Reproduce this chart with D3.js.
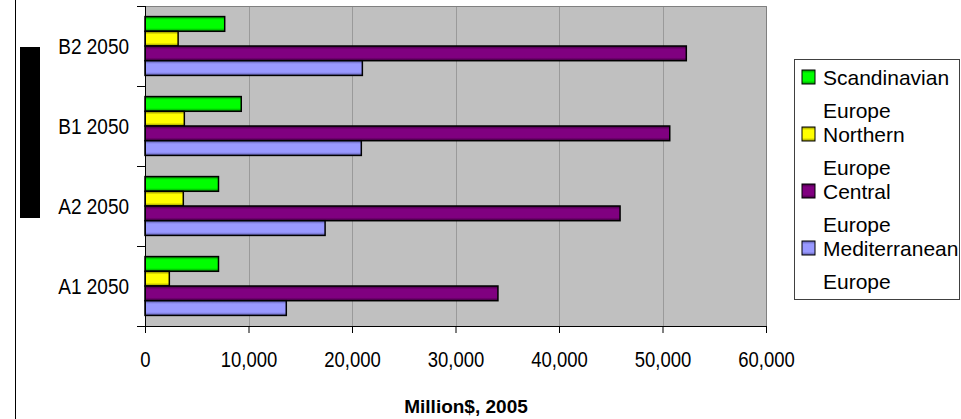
<!DOCTYPE html>
<html>
<head>
<meta charset="utf-8">
<script src="https://cdn.jsdelivr.net/npm/d3@7"></script>
<style>
  body { margin: 0; background: #fff; }
  svg { display: block; font-family: "Liberation Sans", Arial, sans-serif; }
</style>
</head>
<body>
<svg width="961" height="419"></svg>
<script>
// chart data
const scenarios = ['B2 2050', 'B1 2050', 'A2 2050', 'A1 2050'];
const regions = ['Scandinavian Europe', 'Northern Europe', 'Central Europe', 'Mediterranean Europe'];
const scandinavian = [7700, 9300, 7100, 7100];
const northern = [3200, 3800, 3700, 2350];
const central = [52300, 50700, 45900, 34100];
const mediterranean = [21000, 20900, 17400, 13650];
const xTicks = [0, 10000, 20000, 30000, 40000, 50000, 60000];

const seriesValues = [scandinavian, northern, central, mediterranean];
const colors = ['#00ff00', '#ffff00', '#800080', '#9999ff'];
const darkColors = ['#008c00', '#8c8c00', '#3c003c', '#5a5aa8'];

const svg = d3.select('svg');
const plotLeft = 145, plotRight = 766, plotTop = 6, plotBottom = 326;

// gradients for the bar shading
const defs = svg.append('defs');
colors.forEach(function (c, i) {
    const grad = defs.append('linearGradient')
        .attr('id', 'g' + i)
        .attr('x1', 0).attr('y1', 0).attr('x2', 0).attr('y2', 1);
    grad.append('stop').attr('offset', '0%').attr('stop-color', darkColors[i]);
    grad.append('stop').attr('offset', '22%').attr('stop-color', c);
    grad.append('stop').attr('offset', '78%').attr('stop-color', c);
    grad.append('stop').attr('offset', '100%').attr('stop-color', darkColors[i]);
});

// chart frame line at the left
svg.append('line')
    .attr('x1', 15.5).attr('x2', 15.5).attr('y1', 0).attr('y2', 419)
    .attr('stroke', '#000');

// obscured y axis title block
svg.append('rect')
    .attr('x', 20).attr('y', 47).attr('width', 20).attr('height', 171)
    .attr('fill', '#000');

const x = d3.scaleLinear().domain([0, 60000]).range([plotLeft, plotRight]);
const y = d3.scaleBand().domain(scenarios).range([plotTop, plotBottom]).padding(0);
const ySub = d3.scaleBand().domain(d3.range(regions.length))
    .range([0, y.bandwidth()]).paddingInner(0).paddingOuter(0.72);

// plot background
svg.append('rect')
    .attr('x', plotLeft).attr('y', plotTop)
    .attr('width', plotRight - plotLeft).attr('height', plotBottom - plotTop)
    .attr('fill', '#c0c0c0');

// gridlines
svg.append('g').selectAll('line')
    .data(xTicks.slice(1))
    .enter().append('line')
    .attr('x1', function (d) { return Math.round(x(d)) + 0.5; })
    .attr('x2', function (d) { return Math.round(x(d)) + 0.5; })
    .attr('y1', plotTop).attr('y2', plotBottom)
    .attr('stroke', '#9a9a9a');

// top and right border
svg.append('path')
    .attr('d', 'M' + plotLeft + ',' + (plotTop + 0.5) + 'H' + (plotRight + 0.5) + 'V' + plotBottom)
    .attr('fill', 'none')
    .attr('stroke', '#808080');

// bars
const groups = svg.append('g').selectAll('g')
    .data(scenarios)
    .enter().append('g')
    .attr('transform', function (d) { return 'translate(0,' + y(d) + ')'; });

groups.selectAll('rect')
    .data(function (d, i) {
        return seriesValues.map(function (s, k) { return { k: k, v: s[i] }; });
    })
    .enter().append('rect')
    .attr('x', x(0))
    .attr('y', function (d) { return ySub(d.k); })
    .attr('width', function (d) { return x(d.v) - x(0); })
    .attr('height', ySub.bandwidth())
    .attr('fill', function (d) { return 'url(#g' + d.k + ')'; })
    .attr('stroke', '#000')
    .attr('stroke-width', 1.5);

// x axis
const xAxis = svg.append('g')
    .attr('transform', 'translate(0,' + plotBottom + ')')
    .call(d3.axisBottom(x).tickValues(xTicks).tickFormat(d3.format(',')).tickSizeOuter(0).tickSize(7));
xAxis.select('.domain').attr('stroke', '#000');
xAxis.selectAll('text')
    .attr('y', 0).attr('dy', null)
    .attr('font-size', 18.5)
    .attr('fill', '#000')
    .attr('transform', 'translate(0,41) scale(1,1.18)');

// y axis
const yAxis = svg.append('g')
    .attr('transform', 'translate(' + plotLeft + ',0)')
    .call(d3.axisLeft(y).tickSize(0).tickPadding(16));
yAxis.select('.domain').attr('stroke', '#000').attr('d', 'M0.5,' + plotTop + 'V' + plotBottom);
yAxis.selectAll('text')
    .attr('x', -16).attr('y', 0).attr('dy', null)
    .attr('font-size', 19)
    .attr('fill', '#000')
    .attr('transform', 'translate(0,8) scale(1,1.17)');
// ticks at the band edges
const edges = scenarios.map(function (d) { return y(d); }).concat([plotBottom]);
svg.append('g').selectAll('line')
    .data(edges)
    .enter().append('line')
    .attr('x1', plotLeft - 8).attr('x2', plotLeft)
    .attr('y1', function (d) { return Math.round(d) + 0.5; })
    .attr('y2', function (d) { return Math.round(d) + 0.5; })
    .attr('stroke', '#000');

// axis title
svg.append('text')
    .attr('x', 466).attr('y', 413)
    .attr('text-anchor', 'middle')
    .attr('font-size', 19)
    .attr('font-weight', 'bold')
    .text('Million$, 2005');

// legend
const legend = svg.append('g');
legend.append('rect')
    .attr('x', 794.5).attr('y', 59.5).attr('width', 165).attr('height', 240)
    .attr('fill', '#fff').attr('stroke', '#404040');

const items = legend.selectAll('g.item')
    .data(regions)
    .enter().append('g')
    .attr('class', 'item')
    .attr('transform', function (d, i) { return 'translate(0,' + (77 + i * 57) + ')'; });

items.append('rect')
    .attr('x', 802).attr('y', -7).attr('width', 13).attr('height', 14)
    .attr('fill', function (d, i) { return 'url(#g' + i + ')'; })
    .attr('stroke', '#000');

items.each(function (d) {
    const words = d.split(' ');
    const g = d3.select(this);
    words.forEach(function (w, j) {
        g.append('text')
            .attr('x', 823)
            .attr('y', 7.5 + j * 33)
            .attr('font-size', 21)
            .text(w);
    });
});
</script>
</body>
</html>
